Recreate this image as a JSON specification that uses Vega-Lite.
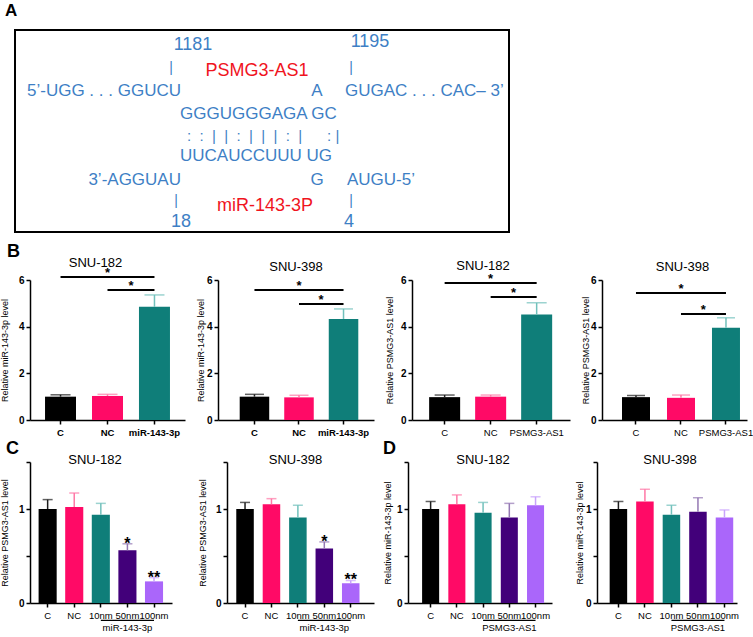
{
"$schema":"https://vega.github.io/schema/vega-lite/v6.json",
"background":"white",
"padding":{"left":0,"top":2,"right":0,"bottom":0},
"config":{
 "view":{"stroke":null},
 "font":"Liberation Sans",
 "axis":{"domainColor":"#000","domainWidth":1.5,"tickColor":"#000","tickWidth":1.5,"tickSize":4,"labelColor":"#000","titleColor":"#000","grid":false,"labelFont":"Liberation Sans","titleFont":"Liberation Sans","titleFontWeight":"normal","titleFontSize":9},
 "axisX":{"labelAngle":0,"labelPadding":3,"labelFontSize":9.5,"labelOverlap":false,"labelBound":false},
 "axisY":{"labelFontSize":10,"labelFontWeight":"bold","labelPadding":2,"minExtent":10,"maxExtent":10},
 "title":{"font":"Liberation Sans","fontWeight":"normal","color":"#000"}
},
"datasets":{
 "diagram":[
  {"t":"1181","x":34.03,"y":92.5,"k":"num"},
  {"t":"1195","x":70.98,"y":94.0,"k":"num"},
  {"t":"18","x":31.52,"y":5.0,"k":"num"},
  {"t":"4","x":66.6,"y":5.0,"k":"num"},
  {"t":"|","x":29.44,"y":81.0,"k":"bar"},
  {"t":"|","x":67.01,"y":81.0,"k":"bar"},
  {"t":"|","x":30.48,"y":15.2,"k":"bar"},
  {"t":"|","x":67.01,"y":15.2,"k":"bar"},
  {"t":"PSMG3-AS1","x":47.39,"y":79.6,"k":"name"},
  {"t":"miR-143-3P","x":49.06,"y":12.9,"k":"name"},
  {"t":"5’-UGG . . . GGUCU","x":31.52,"y":69.7,"k":"right"},
  {"t":"3’-AGGUAU","x":31.52,"y":25.9,"k":"right"},
  {"t":"A","x":59.92,"y":69.7,"k":"center"},
  {"t":"G","x":59.92,"y":25.9,"k":"center"},
  {"t":"GUGAC . . . CAC– 3’","x":65.76,"y":69.7,"k":"left"},
  {"t":"GGGUGGGAGA GC","x":31.32,"y":58.2,"k":"left"},
  {"t":"UUCAUCCUUU UG","x":31.32,"y":37.8,"k":"left"},
  {"t":"AUGU-5’","x":66.18,"y":25.9,"k":"left"},
  {"t":":\u00a0\u00a0:\u00a0\u00a0|\u00a0\u00a0|\u00a0\u00a0:\u00a0\u00a0|\u00a0\u00a0|\u00a0\u00a0|\u00a0\u00a0:\u00a0\u00a0|\u00a0\u00a0\u00a0\u00a0\u00a0\u00a0:\u00a0|","x":32.78,"y":47.3,"k":"pair"}
 ],
 "bars":[
  {"chart":"b1","group":"C","mean":1.0,"upper":1.08,"star":""},
  {"chart":"b1","group":"NC","mean":1.03,"upper":1.10,"star":""},
  {"chart":"b1","group":"miR-143-3p","mean":4.85,"upper":5.36,"star":""},
  {"chart":"b2","group":"C","mean":1.0,"upper":1.10,"star":""},
  {"chart":"b2","group":"NC","mean":0.97,"upper":1.06,"star":""},
  {"chart":"b2","group":"miR-143-3p","mean":4.33,"upper":4.76,"star":""},
  {"chart":"b3","group":"C","mean":0.98,"upper":1.07,"star":""},
  {"chart":"b3","group":"NC","mean":1.0,"upper":1.07,"star":""},
  {"chart":"b3","group":"PSMG3-AS1","mean":4.52,"upper":5.02,"star":""},
  {"chart":"b4","group":"C","mean":0.98,"upper":1.05,"star":""},
  {"chart":"b4","group":"NC","mean":0.95,"upper":1.07,"star":""},
  {"chart":"b4","group":"PSMG3-AS1","mean":3.95,"upper":4.38,"star":""},
  {"chart":"c1","group":"C","mean":1.0,"upper":1.10,"star":""},
  {"chart":"c1","group":"NC","mean":1.02,"upper":1.17,"star":""},
  {"chart":"c1","group":"10nm","mean":0.94,"upper":1.06,"star":""},
  {"chart":"c1","group":"50nm","mean":0.56,"upper":0.63,"star":"*"},
  {"chart":"c1","group":"100nm","mean":0.23,"upper":0.27,"star":"**"},
  {"chart":"c2","group":"C","mean":1.0,"upper":1.07,"star":""},
  {"chart":"c2","group":"NC","mean":1.05,"upper":1.11,"star":""},
  {"chart":"c2","group":"10nm","mean":0.91,"upper":1.04,"star":""},
  {"chart":"c2","group":"50nm","mean":0.58,"upper":0.65,"star":"*"},
  {"chart":"c2","group":"100nm","mean":0.21,"upper":0.24,"star":"**"},
  {"chart":"d1","group":"C","mean":1.0,"upper":1.08,"star":""},
  {"chart":"d1","group":"NC","mean":1.05,"upper":1.15,"star":""},
  {"chart":"d1","group":"10nm","mean":0.96,"upper":1.07,"star":""},
  {"chart":"d1","group":"50nm","mean":0.91,"upper":1.06,"star":""},
  {"chart":"d1","group":"100nm","mean":1.04,"upper":1.13,"star":""},
  {"chart":"d2","group":"C","mean":1.0,"upper":1.08,"star":""},
  {"chart":"d2","group":"NC","mean":1.08,"upper":1.21,"star":""},
  {"chart":"d2","group":"10nm","mean":0.94,"upper":1.04,"star":""},
  {"chart":"d2","group":"50nm","mean":0.97,"upper":1.12,"star":""},
  {"chart":"d2","group":"100nm","mean":0.91,"upper":0.99,"star":""}
 ],
 "sig":[
  {"chart":"b1","from":"C","to":"miR-143-3p","mid":"NC","y":6.13,"level":1,"star":"*"},
  {"chart":"b1","from":"NC","to":"miR-143-3p","mid":"NC","y":5.57,"level":2,"star":"*"},
  {"chart":"b2","from":"C","to":"miR-143-3p","mid":"NC","y":5.57,"level":1,"star":"*"},
  {"chart":"b2","from":"NC","to":"miR-143-3p","mid":"NC","y":4.97,"level":2,"star":"*"},
  {"chart":"b3","from":"C","to":"PSMG3-AS1","mid":"NC","y":5.87,"level":1,"star":"*"},
  {"chart":"b3","from":"NC","to":"PSMG3-AS1","mid":"NC","y":5.27,"level":2,"star":"*"},
  {"chart":"b4","from":"C","to":"PSMG3-AS1","mid":"NC","y":5.44,"level":1,"star":"*"},
  {"chart":"b4","from":"NC","to":"PSMG3-AS1","mid":"NC","y":4.54,"level":2,"star":"*"}
 ],
 "grp":[
  {"chart":"c1","from":"10nm","to":"100nm","mid":"50nm","label":"miR-143-3p"},
  {"chart":"c2","from":"10nm","to":"100nm","mid":"50nm","label":"miR-143-3p"},
  {"chart":"d1","from":"10nm","to":"100nm","mid":"50nm","label":"PSMG3-AS1"},
  {"chart":"d2","from":"10nm","to":"100nm","mid":"50nm","label":"PSMG3-AS1"}
 ]
},
"spacing":9,
"vconcat":[
 {
  "title":{"text":"A","anchor":"start","fontSize":17,"fontWeight":"bold","offset":9,"dx":-9},
  "width":479,"height":202,
  "data":{"name":"diagram"},
  "layer":[
   {"data":{"values":[{}]},"mark":{"type":"rect","filled":false,"stroke":"#000","strokeWidth":2},
    "encoding":{"x":{"datum":-3.13,"type":"quantitative","scale":{"domain":[0,100]},"axis":null},"x2":{"datum":100},"y":{"datum":0,"type":"quantitative","scale":{"domain":[0,100]},"axis":null},"y2":{"datum":100}}},
   {"transform":[{"filter":"datum.k === 'left'"}],"mark":{"type":"text","align":"left","baseline":"middle","fontSize":17,"color":"#3e7fc5"},
    "encoding":{"x":{"field":"x","type":"quantitative","scale":{"domain":[0,100]},"axis":null},"y":{"field":"y","type":"quantitative","scale":{"domain":[0,100]},"axis":null},"text":{"field":"t"}}},
   {"transform":[{"filter":"datum.k === 'right'"}],"mark":{"type":"text","align":"right","baseline":"middle","fontSize":17,"color":"#3e7fc5"},
    "encoding":{"x":{"field":"x","type":"quantitative","scale":{"domain":[0,100]},"axis":null},"y":{"field":"y","type":"quantitative","scale":{"domain":[0,100]},"axis":null},"text":{"field":"t"}}},
   {"transform":[{"filter":"datum.k === 'center'"}],"mark":{"type":"text","align":"center","baseline":"middle","fontSize":17,"color":"#3e7fc5"},
    "encoding":{"x":{"field":"x","type":"quantitative","scale":{"domain":[0,100]},"axis":null},"y":{"field":"y","type":"quantitative","scale":{"domain":[0,100]},"axis":null},"text":{"field":"t"}}},
   {"transform":[{"filter":"datum.k === 'pair'"}],"mark":{"type":"text","align":"left","baseline":"middle","fontSize":15,"color":"#3e7fc5"},
    "encoding":{"x":{"field":"x","type":"quantitative","scale":{"domain":[0,100]},"axis":null},"y":{"field":"y","type":"quantitative","scale":{"domain":[0,100]},"axis":null},"text":{"field":"t"}}},
   {"transform":[{"filter":"datum.k === 'bar'"}],"mark":{"type":"text","align":"center","baseline":"middle","fontSize":14,"color":"#3e7fc5"},
    "encoding":{"x":{"field":"x","type":"quantitative","scale":{"domain":[0,100]},"axis":null},"y":{"field":"y","type":"quantitative","scale":{"domain":[0,100]},"axis":null},"text":{"field":"t"}}},
   {"transform":[{"filter":"datum.k === 'num'"}],"mark":{"type":"text","align":"center","baseline":"middle","fontSize":18,"color":"#3e7fc5"},
    "encoding":{"x":{"field":"x","type":"quantitative","scale":{"domain":[0,100]},"axis":null},"y":{"field":"y","type":"quantitative","scale":{"domain":[0,100]},"axis":null},"text":{"field":"t"}}},
   {"transform":[{"filter":"datum.k === 'name'"}],"mark":{"type":"text","align":"center","baseline":"middle","fontSize":18,"color":"#f0141e"},
    "encoding":{"x":{"field":"x","type":"quantitative","scale":{"domain":[0,100]},"axis":null},"y":{"field":"y","type":"quantitative","scale":{"domain":[0,100]},"axis":null},"text":{"field":"t"}}}
  ]
 },
 {
  "spacing":3,
  "vconcat":[
   {
    "title":{"text":"B","anchor":"start","fontSize":18,"fontWeight":"bold","offset":-4,"dx":7},
    "spacing":11,
    "hconcat":[
     {
      "width":155,"height":140,
      "title":{"text":"SNU-182","fontSize":13,"offset":-3,"dx":-12},
      "data":{"name":"bars"},
      "layer":[
       {"transform":[{"filter":"datum.chart === 'b1'"}],"mark":{"type":"bar"},
        "encoding":{
         "x":{"field":"group","type":"nominal","scale":{"domain":["C","NC","miR-143-3p"],"paddingInner":0.34,"paddingOuter":0.32},"axis":{"title":null,"labelFontWeight":"bold"}},
         "y":{"field":"mean","type":"quantitative","scale":{"domain":[0,6],"nice":false},"axis":{"title":"Relative miR-143-3p level","values":[0,1,2,3,4,5,6],"labelExpr":"datum.value % 2 === 0 ? datum.label : ''","titlePadding":11}},
         "fill":{"field":"group","type":"nominal","scale":{"domain":["C","NC","miR-143-3p","PSMG3-AS1","10nm","50nm","100nm"],"range":["#000000","#ff0a66","#0f7e79","#0f7e79","#0f7e79","#42007a","#aa66fa"]},"legend":null}}},
       {"transform":[{"filter":"datum.chart === 'b1'"}],"mark":{"type":"rule","strokeWidth":1.5},
        "encoding":{
         "x":{"field":"group","type":"nominal","scale":{"domain":["C","NC","miR-143-3p"]}},
         "y":{"field":"mean","type":"quantitative","scale":{"domain":[0,6]}},"y2":{"field":"upper"},
         "color":{"field":"group","type":"nominal","scale":{"domain":["C","NC","miR-143-3p","PSMG3-AS1","10nm","50nm","100nm"],"range":["#1e1e1e","#ff78a6","#72c1bc","#72c1bc","#72c1bc","#9478b3","#c9a3fc"]},"legend":null}}},
       {"transform":[{"filter":"datum.chart === 'b1'"}],"mark":{"type":"tick","thickness":1.5,"size":20},
        "encoding":{
         "x":{"field":"group","type":"nominal","scale":{"domain":["C","NC","miR-143-3p"]}},
         "y":{"field":"upper","type":"quantitative","scale":{"domain":[0,6]}},
         "color":{"field":"group","type":"nominal","scale":{"domain":["C","NC","miR-143-3p","PSMG3-AS1","10nm","50nm","100nm"],"range":["#1e1e1e","#ff78a6","#72c1bc","#72c1bc","#72c1bc","#9478b3","#c9a3fc"]},"legend":null}}},
       {"data":{"name":"sig"},"transform":[{"filter":"datum.chart === 'b1'"}],"mark":{"type":"rule","strokeWidth":2,"color":"#000"},
        "encoding":{
         "x":{"field":"from","type":"nominal","scale":{"domain":["C","NC","miR-143-3p"]}},"x2":{"field":"to"},
         "y":{"field":"y","type":"quantitative","scale":{"domain":[0,6]}}}},
       {"data":{"name":"sig"},"transform":[{"filter":"datum.chart === 'b1' && datum.level === 1"}],"mark":{"type":"text","fontSize":13,"fontWeight":"bold","baseline":"alphabetic"},
        "encoding":{
         "x":{"field":"mid","type":"nominal","scale":{"domain":["C","NC","miR-143-3p"]}},
         "y":{"field":"y","type":"quantitative","scale":{"domain":[0,6]}},"text":{"field":"star"}}},
       {"data":{"name":"sig"},"transform":[{"filter":"datum.chart === 'b1' && datum.level === 2"}],"mark":{"type":"text","fontSize":13,"fontWeight":"bold","baseline":"alphabetic"},
        "encoding":{
         "x":{"field":"from","type":"nominal","bandPosition":1.26,"scale":{"domain":["C","NC","miR-143-3p"]}},
         "y":{"field":"y","type":"quantitative","scale":{"domain":[0,6]}},"text":{"field":"star"}}}
      ]
     },
     {
      "width":156,"height":140,
      "title":{"text":"SNU-398","fontSize":13,"offset":1,"dx":0},
      "data":{"name":"bars"},
      "layer":[
       {"transform":[{"filter":"datum.chart === 'b2'"}],"mark":{"type":"bar"},
        "encoding":{
         "x":{"field":"group","type":"nominal","scale":{"domain":["C","NC","miR-143-3p"],"paddingInner":0.337,"paddingOuter":0.42,"align":0.58},"axis":{"title":null,"labelFontWeight":"bold"}},
         "y":{"field":"mean","type":"quantitative","scale":{"domain":[0,6],"nice":false},"axis":{"title":"Relative miR-143-3p level","values":[0,1,2,3,4,5,6],"labelExpr":"datum.value % 2 === 0 ? datum.label : ''","titlePadding":3}},
         "fill":{"field":"group","type":"nominal","scale":{"domain":["C","NC","miR-143-3p","PSMG3-AS1","10nm","50nm","100nm"],"range":["#000000","#ff0a66","#0f7e79","#0f7e79","#0f7e79","#42007a","#aa66fa"]},"legend":null}}},
       {"transform":[{"filter":"datum.chart === 'b2'"}],"mark":{"type":"rule","strokeWidth":1.5},
        "encoding":{
         "x":{"field":"group","type":"nominal","scale":{"domain":["C","NC","miR-143-3p"]}},
         "y":{"field":"mean","type":"quantitative","scale":{"domain":[0,6]}},"y2":{"field":"upper"},
         "color":{"field":"group","type":"nominal","scale":{"domain":["C","NC","miR-143-3p","PSMG3-AS1","10nm","50nm","100nm"],"range":["#1e1e1e","#ff78a6","#72c1bc","#72c1bc","#72c1bc","#9478b3","#c9a3fc"]},"legend":null}}},
       {"transform":[{"filter":"datum.chart === 'b2'"}],"mark":{"type":"tick","thickness":1.5,"size":19},
        "encoding":{
         "x":{"field":"group","type":"nominal","scale":{"domain":["C","NC","miR-143-3p"]}},
         "y":{"field":"upper","type":"quantitative","scale":{"domain":[0,6]}},
         "color":{"field":"group","type":"nominal","scale":{"domain":["C","NC","miR-143-3p","PSMG3-AS1","10nm","50nm","100nm"],"range":["#1e1e1e","#ff78a6","#72c1bc","#72c1bc","#72c1bc","#9478b3","#c9a3fc"]},"legend":null}}},
       {"data":{"name":"sig"},"transform":[{"filter":"datum.chart === 'b2'"}],"mark":{"type":"rule","strokeWidth":2,"color":"#000"},
        "encoding":{
         "x":{"field":"from","type":"nominal","scale":{"domain":["C","NC","miR-143-3p"]}},"x2":{"field":"to"},
         "y":{"field":"y","type":"quantitative","scale":{"domain":[0,6]}}}},
       {"data":{"name":"sig"},"transform":[{"filter":"datum.chart === 'b2' && datum.level === 1"}],"mark":{"type":"text","fontSize":13,"fontWeight":"bold","baseline":"alphabetic"},
        "encoding":{
         "x":{"field":"mid","type":"nominal","scale":{"domain":["C","NC","miR-143-3p"]}},
         "y":{"field":"y","type":"quantitative","scale":{"domain":[0,6]}},"text":{"field":"star"}}},
       {"data":{"name":"sig"},"transform":[{"filter":"datum.chart === 'b2' && datum.level === 2"}],"mark":{"type":"text","fontSize":13,"fontWeight":"bold","baseline":"alphabetic"},
        "encoding":{
         "x":{"field":"from","type":"nominal","bandPosition":1.25,"scale":{"domain":["C","NC","miR-143-3p"]}},
         "y":{"field":"y","type":"quantitative","scale":{"domain":[0,6]}},"text":{"field":"star"}}}
      ]
     },
     {
      "width":158,"height":140,
      "title":{"text":"SNU-182","fontSize":13,"offset":0,"dx":-8},
      "data":{"name":"bars"},
      "layer":[
       {"transform":[{"filter":"datum.chart === 'b3'"}],"mark":{"type":"bar"},
        "encoding":{
         "x":{"field":"group","type":"nominal","scale":{"domain":["C","NC","PSMG3-AS1"],"paddingInner":0.326,"paddingOuter":0.38,"align":0.49},"axis":{"title":null,"labelFontWeight":"normal"}},
         "y":{"field":"mean","type":"quantitative","scale":{"domain":[0,6],"nice":false},"axis":{"title":"Relative PSMG3-AS1 level","values":[0,1,2,3,4,5,6],"labelExpr":"datum.value % 2 === 0 ? datum.label : ''","titlePadding":8}},
         "fill":{"field":"group","type":"nominal","scale":{"domain":["C","NC","miR-143-3p","PSMG3-AS1","10nm","50nm","100nm"],"range":["#000000","#ff0a66","#0f7e79","#0f7e79","#0f7e79","#42007a","#aa66fa"]},"legend":null}}},
       {"transform":[{"filter":"datum.chart === 'b3'"}],"mark":{"type":"rule","strokeWidth":1.5},
        "encoding":{
         "x":{"field":"group","type":"nominal","scale":{"domain":["C","NC","PSMG3-AS1"]}},
         "y":{"field":"mean","type":"quantitative","scale":{"domain":[0,6]}},"y2":{"field":"upper"},
         "color":{"field":"group","type":"nominal","scale":{"domain":["C","NC","miR-143-3p","PSMG3-AS1","10nm","50nm","100nm"],"range":["#1e1e1e","#ff78a6","#72c1bc","#72c1bc","#72c1bc","#9478b3","#c9a3fc"]},"legend":null}}},
       {"transform":[{"filter":"datum.chart === 'b3'"}],"mark":{"type":"tick","thickness":1.5,"size":20},
        "encoding":{
         "x":{"field":"group","type":"nominal","scale":{"domain":["C","NC","PSMG3-AS1"]}},
         "y":{"field":"upper","type":"quantitative","scale":{"domain":[0,6]}},
         "color":{"field":"group","type":"nominal","scale":{"domain":["C","NC","miR-143-3p","PSMG3-AS1","10nm","50nm","100nm"],"range":["#1e1e1e","#ff78a6","#72c1bc","#72c1bc","#72c1bc","#9478b3","#c9a3fc"]},"legend":null}}},
       {"data":{"name":"sig"},"transform":[{"filter":"datum.chart === 'b3'"}],"mark":{"type":"rule","strokeWidth":2,"color":"#000"},
        "encoding":{
         "x":{"field":"from","type":"nominal","scale":{"domain":["C","NC","PSMG3-AS1"]}},"x2":{"field":"to"},
         "y":{"field":"y","type":"quantitative","scale":{"domain":[0,6]}}}},
       {"data":{"name":"sig"},"transform":[{"filter":"datum.chart === 'b3' && datum.level === 1"}],"mark":{"type":"text","fontSize":13,"fontWeight":"bold","baseline":"alphabetic"},
        "encoding":{
         "x":{"field":"mid","type":"nominal","scale":{"domain":["C","NC","PSMG3-AS1"]}},
         "y":{"field":"y","type":"quantitative","scale":{"domain":[0,6]}},"text":{"field":"star"}}},
       {"data":{"name":"sig"},"transform":[{"filter":"datum.chart === 'b3' && datum.level === 2"}],"mark":{"type":"text","fontSize":13,"fontWeight":"bold","baseline":"alphabetic"},
        "encoding":{
         "x":{"field":"from","type":"nominal","bandPosition":1.24,"scale":{"domain":["C","NC","PSMG3-AS1"]}},
         "y":{"field":"y","type":"quantitative","scale":{"domain":[0,6]}},"text":{"field":"star"}}}
      ]
     },
     {
      "width":145,"height":140,
      "title":{"text":"SNU-398","fontSize":13,"offset":1,"dx":8},
      "data":{"name":"bars"},
      "layer":[
       {"transform":[{"filter":"datum.chart === 'b4'"}],"mark":{"type":"bar"},
        "encoding":{
         "x":{"field":"group","type":"nominal","scale":{"domain":["C","NC","PSMG3-AS1"],"paddingInner":0.378,"paddingOuter":0.3,"align":0.74},"axis":{"title":null,"labelFontWeight":"normal"}},
         "y":{"field":"mean","type":"quantitative","scale":{"domain":[0,6],"nice":false},"axis":{"title":"Relative PSMG3-AS1 level","values":[0,1,2,3,4,5,6],"labelExpr":"datum.value % 2 === 0 ? datum.label : ''","titlePadding":2}},
         "fill":{"field":"group","type":"nominal","scale":{"domain":["C","NC","miR-143-3p","PSMG3-AS1","10nm","50nm","100nm"],"range":["#000000","#ff0a66","#0f7e79","#0f7e79","#0f7e79","#42007a","#aa66fa"]},"legend":null}}},
       {"transform":[{"filter":"datum.chart === 'b4'"}],"mark":{"type":"rule","strokeWidth":1.5},
        "encoding":{
         "x":{"field":"group","type":"nominal","scale":{"domain":["C","NC","PSMG3-AS1"]}},
         "y":{"field":"mean","type":"quantitative","scale":{"domain":[0,6]}},"y2":{"field":"upper"},
         "color":{"field":"group","type":"nominal","scale":{"domain":["C","NC","miR-143-3p","PSMG3-AS1","10nm","50nm","100nm"],"range":["#1e1e1e","#ff78a6","#72c1bc","#72c1bc","#72c1bc","#9478b3","#c9a3fc"]},"legend":null}}},
       {"transform":[{"filter":"datum.chart === 'b4'"}],"mark":{"type":"tick","thickness":1.5,"size":18},
        "encoding":{
         "x":{"field":"group","type":"nominal","scale":{"domain":["C","NC","PSMG3-AS1"]}},
         "y":{"field":"upper","type":"quantitative","scale":{"domain":[0,6]}},
         "color":{"field":"group","type":"nominal","scale":{"domain":["C","NC","miR-143-3p","PSMG3-AS1","10nm","50nm","100nm"],"range":["#1e1e1e","#ff78a6","#72c1bc","#72c1bc","#72c1bc","#9478b3","#c9a3fc"]},"legend":null}}},
       {"data":{"name":"sig"},"transform":[{"filter":"datum.chart === 'b4'"}],"mark":{"type":"rule","strokeWidth":2,"color":"#000"},
        "encoding":{
         "x":{"field":"from","type":"nominal","scale":{"domain":["C","NC","PSMG3-AS1"]}},"x2":{"field":"to"},
         "y":{"field":"y","type":"quantitative","scale":{"domain":[0,6]}}}},
       {"data":{"name":"sig"},"transform":[{"filter":"datum.chart === 'b4' && datum.level === 1"}],"mark":{"type":"text","fontSize":13,"fontWeight":"bold","baseline":"alphabetic"},
        "encoding":{
         "x":{"field":"mid","type":"nominal","scale":{"domain":["C","NC","PSMG3-AS1"]}},
         "y":{"field":"y","type":"quantitative","scale":{"domain":[0,6]}},"text":{"field":"star"}}},
       {"data":{"name":"sig"},"transform":[{"filter":"datum.chart === 'b4' && datum.level === 2"}],"mark":{"type":"text","fontSize":13,"fontWeight":"bold","baseline":"alphabetic"},
        "encoding":{
         "x":{"field":"from","type":"nominal","bandPosition":1.3,"scale":{"domain":["C","NC","PSMG3-AS1"]}},
         "y":{"field":"y","type":"quantitative","scale":{"domain":[0,6]}},"text":{"field":"star"}}}
      ]
     }
    ]
   },
   {
    "spacing":9,
    "hconcat":[
     {
      "title":{"text":"C","anchor":"start","fontSize":18,"fontWeight":"bold","offset":-4,"dx":6},
      "spacing":26,
      "hconcat":[
       {
        "width":142,"height":141,
        "title":{"text":"SNU-182","fontSize":13,"offset":-6,"dx":-6},
        "data":{"name":"bars"},
        "layer":[
         {"transform":[{"filter":"datum.chart === 'c1'"}],"mark":{"type":"bar"},
          "encoding":{
           "x":{"field":"group","type":"nominal","scale":{"domain":["C","NC","10nm","50nm","100nm"],"paddingInner":0.32,"paddingOuter":0.33,"align":0.49},"axis":{"title":null}},
           "y":{"field":"mean","type":"quantitative","scale":{"domain":[0,1.5],"nice":false},"axis":{"title":"Relative PSMG3-AS1 level","values":[0,0.5,1,1.5],"labelExpr":"datum.value === 0 ? '0' : (datum.value === 1 ? '1' : '')","titlePadding":11}},
           "fill":{"field":"group","type":"nominal","scale":{"domain":["C","NC","miR-143-3p","PSMG3-AS1","10nm","50nm","100nm"],"range":["#000000","#ff0a66","#0f7e79","#0f7e79","#0f7e79","#42007a","#aa66fa"]},"legend":null}}},
         {"transform":[{"filter":"datum.chart === 'c1'"}],"mark":{"type":"rule","strokeWidth":1.5},
          "encoding":{
           "x":{"field":"group","type":"nominal","scale":{"domain":["C","NC","10nm","50nm","100nm"]}},
           "y":{"field":"mean","type":"quantitative","scale":{"domain":[0,1.5]}},"y2":{"field":"upper"},
           "color":{"field":"group","type":"nominal","scale":{"domain":["C","NC","miR-143-3p","PSMG3-AS1","10nm","50nm","100nm"],"range":["#1e1e1e","#ff78a6","#72c1bc","#72c1bc","#72c1bc","#9478b3","#c9a3fc"]},"legend":null}}},
         {"transform":[{"filter":"datum.chart === 'c1'"}],"mark":{"type":"tick","thickness":1.5,"size":10},
          "encoding":{
           "x":{"field":"group","type":"nominal","scale":{"domain":["C","NC","10nm","50nm","100nm"]}},
           "y":{"field":"upper","type":"quantitative","scale":{"domain":[0,1.5]}},
           "color":{"field":"group","type":"nominal","scale":{"domain":["C","NC","miR-143-3p","PSMG3-AS1","10nm","50nm","100nm"],"range":["#1e1e1e","#ff78a6","#72c1bc","#72c1bc","#72c1bc","#9478b3","#c9a3fc"]},"legend":null}}},
         {"transform":[{"filter":"datum.chart === 'c1' && datum.star !== ''"}],"mark":{"type":"text","fontSize":16,"fontWeight":"bold","baseline":"middle"},
          "encoding":{
           "x":{"field":"group","type":"nominal","scale":{"domain":["C","NC","10nm","50nm","100nm"]}},
           "y":{"field":"upper","type":"quantitative","scale":{"domain":[0,1.5]}},"text":{"field":"star"}}},
         {"data":{"name":"grp"},"transform":[{"filter":"datum.chart === 'c1'"}],"mark":{"type":"rule","strokeWidth":1.2,"color":"#000"},
          "encoding":{
           "x":{"field":"from","type":"nominal","scale":{"domain":["C","NC","10nm","50nm","100nm"]}},"x2":{"field":"to"},
           "y":{"datum":-0.185,"type":"quantitative","scale":{"domain":[0,1.5]}}}},
         {"data":{"name":"grp"},"transform":[{"filter":"datum.chart === 'c1'"}],"mark":{"type":"text","baseline":"top","fontSize":9.5},
          "encoding":{
           "x":{"field":"mid","type":"nominal","scale":{"domain":["C","NC","10nm","50nm","100nm"]}},
           "y":{"datum":-0.215,"type":"quantitative","scale":{"domain":[0,1.5]}},"text":{"field":"label"}}}
        ]
       },
       {
        "width":147,"height":141,
        "title":{"text":"SNU-398","fontSize":13,"offset":-6,"dx":-5},
        "data":{"name":"bars"},
        "layer":[
         {"transform":[{"filter":"datum.chart === 'c2'"}],"mark":{"type":"bar"},
          "encoding":{
           "x":{"field":"group","type":"nominal","scale":{"domain":["C","NC","10nm","50nm","100nm"],"paddingInner":0.337,"paddingOuter":0.45,"align":0.39},"axis":{"title":null}},
           "y":{"field":"mean","type":"quantitative","scale":{"domain":[0,1.5],"nice":false},"axis":{"title":"Relative PSMG3-AS1 level","values":[0,0.5,1,1.5],"labelExpr":"datum.value === 0 ? '0' : (datum.value === 1 ? '1' : '')","titlePadding":10}},
           "fill":{"field":"group","type":"nominal","scale":{"domain":["C","NC","miR-143-3p","PSMG3-AS1","10nm","50nm","100nm"],"range":["#000000","#ff0a66","#0f7e79","#0f7e79","#0f7e79","#42007a","#aa66fa"]},"legend":null}}},
         {"transform":[{"filter":"datum.chart === 'c2'"}],"mark":{"type":"rule","strokeWidth":1.5},
          "encoding":{
           "x":{"field":"group","type":"nominal","scale":{"domain":["C","NC","10nm","50nm","100nm"]}},
           "y":{"field":"mean","type":"quantitative","scale":{"domain":[0,1.5]}},"y2":{"field":"upper"},
           "color":{"field":"group","type":"nominal","scale":{"domain":["C","NC","miR-143-3p","PSMG3-AS1","10nm","50nm","100nm"],"range":["#1e1e1e","#ff78a6","#72c1bc","#72c1bc","#72c1bc","#9478b3","#c9a3fc"]},"legend":null}}},
         {"transform":[{"filter":"datum.chart === 'c2'"}],"mark":{"type":"tick","thickness":1.5,"size":10},
          "encoding":{
           "x":{"field":"group","type":"nominal","scale":{"domain":["C","NC","10nm","50nm","100nm"]}},
           "y":{"field":"upper","type":"quantitative","scale":{"domain":[0,1.5]}},
           "color":{"field":"group","type":"nominal","scale":{"domain":["C","NC","miR-143-3p","PSMG3-AS1","10nm","50nm","100nm"],"range":["#1e1e1e","#ff78a6","#72c1bc","#72c1bc","#72c1bc","#9478b3","#c9a3fc"]},"legend":null}}},
         {"transform":[{"filter":"datum.chart === 'c2' && datum.star !== ''"}],"mark":{"type":"text","fontSize":16,"fontWeight":"bold","baseline":"middle"},
          "encoding":{
           "x":{"field":"group","type":"nominal","scale":{"domain":["C","NC","10nm","50nm","100nm"]}},
           "y":{"field":"upper","type":"quantitative","scale":{"domain":[0,1.5]}},"text":{"field":"star"}}},
         {"data":{"name":"grp"},"transform":[{"filter":"datum.chart === 'c2'"}],"mark":{"type":"rule","strokeWidth":1.2,"color":"#000"},
          "encoding":{
           "x":{"field":"from","type":"nominal","scale":{"domain":["C","NC","10nm","50nm","100nm"]}},"x2":{"field":"to"},
           "y":{"datum":-0.185,"type":"quantitative","scale":{"domain":[0,1.5]}}}},
         {"data":{"name":"grp"},"transform":[{"filter":"datum.chart === 'c2'"}],"mark":{"type":"text","baseline":"top","fontSize":9.5},
          "encoding":{
           "x":{"field":"mid","type":"nominal","scale":{"domain":["C","NC","10nm","50nm","100nm"]}},
           "y":{"datum":-0.215,"type":"quantitative","scale":{"domain":[0,1.5]}},"text":{"field":"label"}}}
        ]
       }
      ]
     },
     {
      "title":{"text":"D","anchor":"start","fontSize":18,"fontWeight":"bold","offset":-4},
      "spacing":23,
      "hconcat":[
       {
        "width":144,"height":141,
        "title":{"text":"SNU-182","fontSize":13,"offset":-6,"dx":3},
        "data":{"name":"bars"},
        "layer":[
         {"transform":[{"filter":"datum.chart === 'd1'"}],"mark":{"type":"bar"},
          "encoding":{
           "x":{"field":"group","type":"nominal","scale":{"domain":["C","NC","10nm","50nm","100nm"],"paddingInner":0.35,"paddingOuter":0.42,"align":0.64},"axis":{"title":null}},
           "y":{"field":"mean","type":"quantitative","scale":{"domain":[0,1.5],"nice":false},"axis":{"title":"Relative miR-143-3p level","values":[0,0.5,1,1.5],"labelExpr":"datum.value === 0 ? '0' : (datum.value === 1 ? '1' : '')","titlePadding":6}},
           "fill":{"field":"group","type":"nominal","scale":{"domain":["C","NC","miR-143-3p","PSMG3-AS1","10nm","50nm","100nm"],"range":["#000000","#ff0a66","#0f7e79","#0f7e79","#0f7e79","#42007a","#aa66fa"]},"legend":null}}},
         {"transform":[{"filter":"datum.chart === 'd1'"}],"mark":{"type":"rule","strokeWidth":1.5},
          "encoding":{
           "x":{"field":"group","type":"nominal","scale":{"domain":["C","NC","10nm","50nm","100nm"]}},
           "y":{"field":"mean","type":"quantitative","scale":{"domain":[0,1.5]}},"y2":{"field":"upper"},
           "color":{"field":"group","type":"nominal","scale":{"domain":["C","NC","miR-143-3p","PSMG3-AS1","10nm","50nm","100nm"],"range":["#1e1e1e","#ff78a6","#72c1bc","#72c1bc","#72c1bc","#9478b3","#c9a3fc"]},"legend":null}}},
         {"transform":[{"filter":"datum.chart === 'd1'"}],"mark":{"type":"tick","thickness":1.5,"size":10},
          "encoding":{
           "x":{"field":"group","type":"nominal","scale":{"domain":["C","NC","10nm","50nm","100nm"]}},
           "y":{"field":"upper","type":"quantitative","scale":{"domain":[0,1.5]}},
           "color":{"field":"group","type":"nominal","scale":{"domain":["C","NC","miR-143-3p","PSMG3-AS1","10nm","50nm","100nm"],"range":["#1e1e1e","#ff78a6","#72c1bc","#72c1bc","#72c1bc","#9478b3","#c9a3fc"]},"legend":null}}},
         {"data":{"name":"grp"},"transform":[{"filter":"datum.chart === 'd1'"}],"mark":{"type":"rule","strokeWidth":1.2,"color":"#000"},
          "encoding":{
           "x":{"field":"from","type":"nominal","scale":{"domain":["C","NC","10nm","50nm","100nm"]}},"x2":{"field":"to"},
           "y":{"datum":-0.185,"type":"quantitative","scale":{"domain":[0,1.5]}}}},
         {"data":{"name":"grp"},"transform":[{"filter":"datum.chart === 'd1'"}],"mark":{"type":"text","baseline":"top","fontSize":9.5},
          "encoding":{
           "x":{"field":"mid","type":"nominal","scale":{"domain":["C","NC","10nm","50nm","100nm"]}},
           "y":{"datum":-0.215,"type":"quantitative","scale":{"domain":[0,1.5]}},"text":{"field":"label"}}}
        ]
       },
       {
        "width":140,"height":141,
        "title":{"text":"SNU-398","fontSize":13,"offset":-6,"dx":3},
        "data":{"name":"bars"},
        "layer":[
         {"transform":[{"filter":"datum.chart === 'd2'"}],"mark":{"type":"bar"},
          "encoding":{
           "x":{"field":"group","type":"nominal","scale":{"domain":["C","NC","10nm","50nm","100nm"],"paddingInner":0.34,"paddingOuter":0.31,"align":0.77},"axis":{"title":null}},
           "y":{"field":"mean","type":"quantitative","scale":{"domain":[0,1.5],"nice":false},"axis":{"title":"Relative miR-143-3p level","values":[0,0.5,1,1.5],"labelExpr":"datum.value === 0 ? '0' : (datum.value === 1 ? '1' : '')","titlePadding":3}},
           "fill":{"field":"group","type":"nominal","scale":{"domain":["C","NC","miR-143-3p","PSMG3-AS1","10nm","50nm","100nm"],"range":["#000000","#ff0a66","#0f7e79","#0f7e79","#0f7e79","#42007a","#aa66fa"]},"legend":null}}},
         {"transform":[{"filter":"datum.chart === 'd2'"}],"mark":{"type":"rule","strokeWidth":1.5},
          "encoding":{
           "x":{"field":"group","type":"nominal","scale":{"domain":["C","NC","10nm","50nm","100nm"]}},
           "y":{"field":"mean","type":"quantitative","scale":{"domain":[0,1.5]}},"y2":{"field":"upper"},
           "color":{"field":"group","type":"nominal","scale":{"domain":["C","NC","miR-143-3p","PSMG3-AS1","10nm","50nm","100nm"],"range":["#1e1e1e","#ff78a6","#72c1bc","#72c1bc","#72c1bc","#9478b3","#c9a3fc"]},"legend":null}}},
         {"transform":[{"filter":"datum.chart === 'd2'"}],"mark":{"type":"tick","thickness":1.5,"size":10},
          "encoding":{
           "x":{"field":"group","type":"nominal","scale":{"domain":["C","NC","10nm","50nm","100nm"]}},
           "y":{"field":"upper","type":"quantitative","scale":{"domain":[0,1.5]}},
           "color":{"field":"group","type":"nominal","scale":{"domain":["C","NC","miR-143-3p","PSMG3-AS1","10nm","50nm","100nm"],"range":["#1e1e1e","#ff78a6","#72c1bc","#72c1bc","#72c1bc","#9478b3","#c9a3fc"]},"legend":null}}},
         {"data":{"name":"grp"},"transform":[{"filter":"datum.chart === 'd2'"}],"mark":{"type":"rule","strokeWidth":1.2,"color":"#000"},
          "encoding":{
           "x":{"field":"from","type":"nominal","scale":{"domain":["C","NC","10nm","50nm","100nm"]}},"x2":{"field":"to"},
           "y":{"datum":-0.185,"type":"quantitative","scale":{"domain":[0,1.5]}}}},
         {"data":{"name":"grp"},"transform":[{"filter":"datum.chart === 'd2'"}],"mark":{"type":"text","baseline":"top","fontSize":9.5},
          "encoding":{
           "x":{"field":"mid","type":"nominal","scale":{"domain":["C","NC","10nm","50nm","100nm"]}},
           "y":{"datum":-0.215,"type":"quantitative","scale":{"domain":[0,1.5]}},"text":{"field":"label"}}}
        ]
       }
      ]
     }
    ]
   }
  ]
 }
]
}
